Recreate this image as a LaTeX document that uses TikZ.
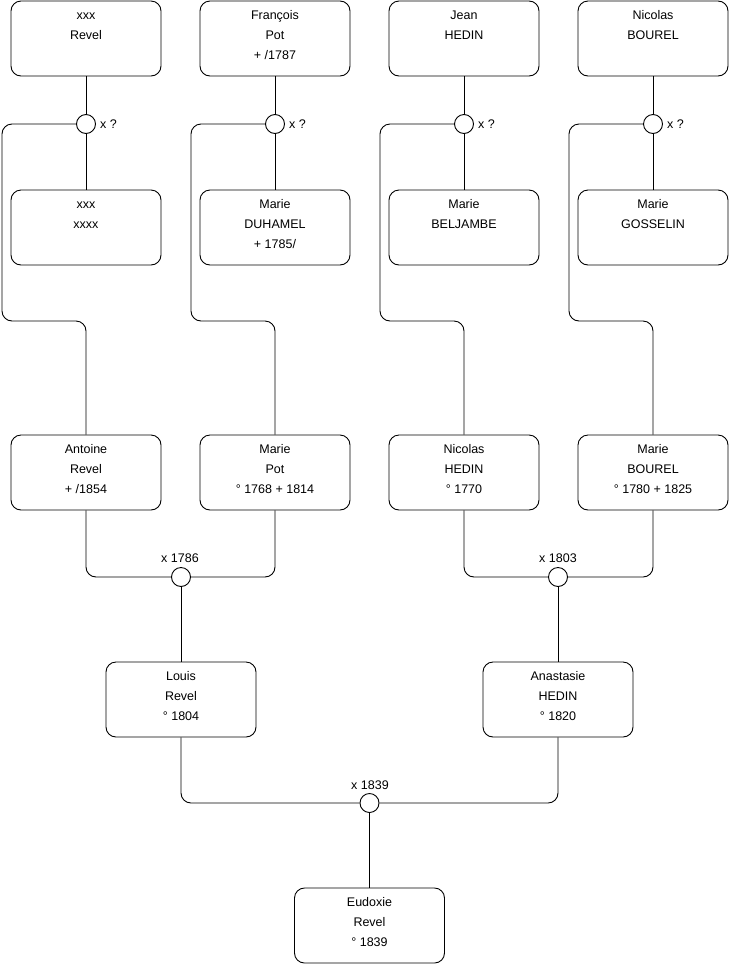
\documentclass[tikz,border=0pt]{standalone}
\usepackage{fontspec}
\setmainfont{Liberation Sans}
\newcommand{\ptext}[1]{\parbox[c][75pt][t]{150pt}{\centering\fontsize{12.5}{20}\selectfont\rule{0pt}{18.8pt}#1}}
\begin{document}
\begin{tikzpicture}[x=1pt,y=-1pt,
  person/.style={draw, line width=0.9pt, rounded corners=10pt, minimum width=150pt, minimum height=75pt, inner sep=0pt},
  wed/.style={draw, line width=0.9pt, circle, minimum size=19pt, inner sep=0pt, fill=white},
  lbl/.style={inner sep=0pt, font=\fontsize{12.5}{14}\selectfont},
  link/.style={line width=0.9pt, rounded corners=10pt}]
\useasboundingbox (0,0) rectangle (740,975);
% top row
\node[person] (t1) at (86,38.5) {\ptext{xxx\\Revel}};
\node[person] (t2) at (275,38.5) {\ptext{François\\Pot\\+ /1787}};
\node[person] (t3) at (464,38.5) {\ptext{Jean\\HEDIN}};
\node[person] (t4) at (653,38.5) {\ptext{Nicolas\\BOUREL}};
% spouses
\node[person] (s1) at (86,227.5) {\ptext{xxx\\xxxx}};
\node[person] (s2) at (275,227.5) {\ptext{Marie\\DUHAMEL\\+ 1785/}};
\node[person] (s3) at (464,227.5) {\ptext{Marie\\BELJAMBE}};
\node[person] (s4) at (653,227.5) {\ptext{Marie\\GOSSELIN}};
% parents
\node[person] (p1) at (86,472.5) {\ptext{Antoine\\Revel\\+ /1854}};
\node[person] (p2) at (275,472.5) {\ptext{Marie\\Pot\\° 1768 + 1814}};
\node[person] (p3) at (464,472.5) {\ptext{Nicolas\\HEDIN\\° 1770}};
\node[person] (p4) at (653,472.5) {\ptext{Marie\\BOUREL\\° 1780 + 1825}};
% children
\node[person] (c1) at (181,699.5) {\ptext{Louis\\Revel\\° 1804}};
\node[person] (c2) at (558,699.5) {\ptext{Anastasie\\HEDIN\\° 1820}};
\node[person] (e) at (369.5,925.5) {\ptext{Eudoxie\\Revel\\° 1839}};
% wedding circles
\node[wed] (m1) at (86,124) {};
\node[wed] (m2) at (275,124) {};
\node[wed] (m3) at (464,124) {};
\node[wed] (m4) at (653,124) {};
\node[wed] (n1) at (181,577) {};
\node[wed] (n2) at (558,577) {};
\node[wed] (f) at (369.5,803) {};
% labels
\node[lbl, anchor=base west] (lm1) at (100,128) {x ?};
\node[lbl, anchor=base west] (lm2) at (289,128) {x ?};
\node[lbl, anchor=base west] (lm3) at (478,128) {x ?};
\node[lbl, anchor=base west] (lm4) at (667,128) {x ?};
\node[lbl, anchor=base] (ln1) at (180,562) {x 1786};
\node[lbl, anchor=base] (ln2) at (558,562) {x 1803};
\node[lbl, anchor=base] (lf) at (370,789) {x 1839};
% connectors top
\foreach \i/\x in {1/2,2/191,3/380,4/569}{
  \draw[link] (t\i.south) -- (m\i.north);
  \draw[link] (m\i.south) -- (s\i.north);
  \draw[link] (m\i.west) -| (\x,321) -| (p\i.north);
}
% marriages
\draw[link] (p1.south) |- (n1.west);
\draw[link] (p2.south) |- (n1.east);
\draw[link] (n1.south) -- (c1.north);
\draw[link] (p3.south) |- (n2.west);
\draw[link] (p4.south) |- (n2.east);
\draw[link] (n2.south) -- (c2.north);
\draw[link] (c1.south) |- (f.west);
\draw[link] (c2.south) |- (f.east);
\draw[link] (f.south) -- (e.north);
\end{tikzpicture}
\end{document}
